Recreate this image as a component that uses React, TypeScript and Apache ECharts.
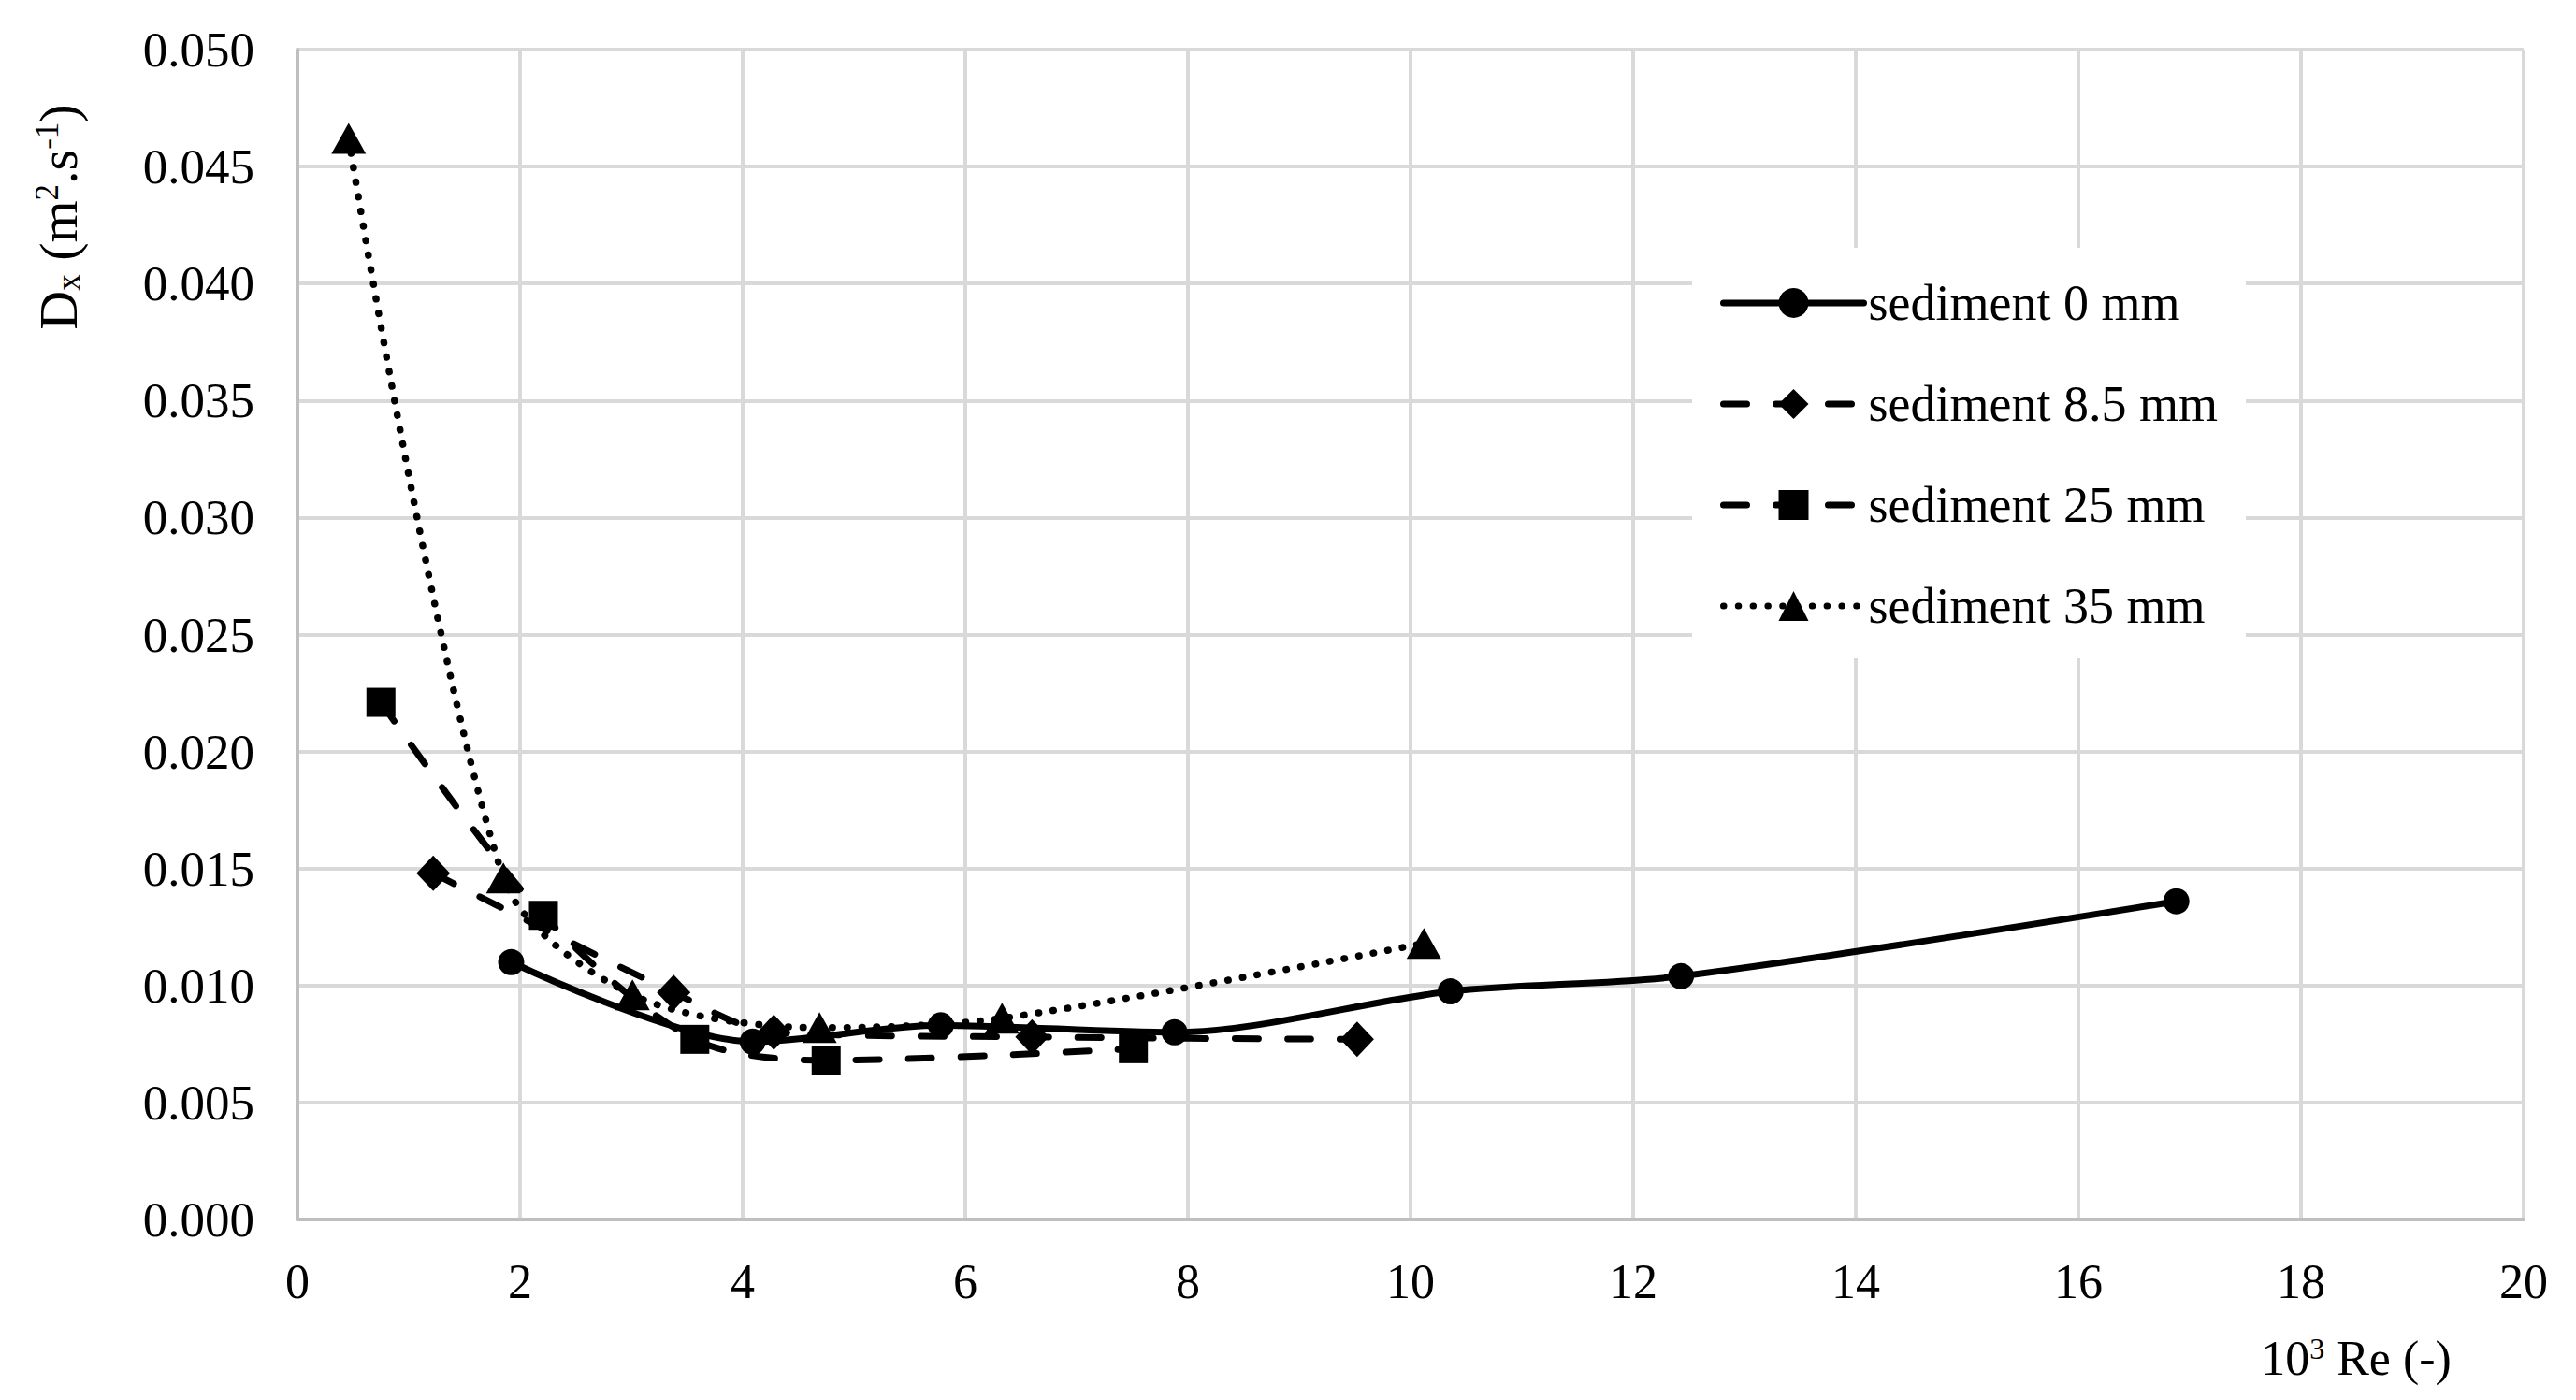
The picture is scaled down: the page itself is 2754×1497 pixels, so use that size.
import React, { useEffect, useRef } from "react";
import * as echarts from "echarts";

// ---- data (x = 10^3 Re, y = Dx in m2/s) ----
const seriesNames = ["sediment 0 mm", "sediment 8.5 mm", "sediment 25 mm", "sediment 35 mm"];

const sed0: number[][] = [
  [1.92, 0.0110], [4.09, 0.0076], [5.78, 0.0083], [7.88, 0.0080],
  [10.36, 0.00975], [12.43, 0.0104], [16.88, 0.0136],
];
const sed85: number[][] = [
  [1.22, 0.0148], [3.38, 0.0097], [4.28, 0.0080], [6.60, 0.0078], [9.52, 0.0077],
];
const sed25: number[][] = [
  [0.75, 0.0221], [2.21, 0.0130], [3.57, 0.0077], [4.75, 0.0068], [7.51, 0.0073],
];
const sed35: number[][] = [
  [0.46, 0.0462], [1.85, 0.0146], [3.01, 0.0096], [4.69, 0.0082], [6.33, 0.0086], [10.12, 0.0118],
];

const xMin = 0, xMax = 20, xStep = 2;
const yMin = 0, yMax = 0.05, yStep = 0.005;

const FONT = "Liberation Serif";

export default function App() {
  const ref = useRef<HTMLDivElement>(null);
  useEffect(() => {
    if (!ref.current) return;
    const chart = echarts.init(ref.current, null, { renderer: "svg" });
    const dash = [25, 31];
    const dots = [0.5, 15.3];
    const base = {
      type: "line" as const,
      smooth: 0.3,
      color: "#000",
      itemStyle: { color: "#000" },
    };
    chart.setOption({
      animation: false,
      backgroundColor: "#fff",
      grid: { left: 318, right: 56, top: 53, bottom: 193, containLabel: false },
      xAxis: {
        type: "value",
        min: xMin,
        max: xMax,
        interval: xStep,
        axisLine: { show: true, lineStyle: { color: "#bfbfbf", width: 4 } },
        axisTick: { show: false },
        axisLabel: { color: "#000", fontFamily: FONT, fontSize: 52, margin: 40 },
        splitLine: { show: true, lineStyle: { color: "#d9d9d9", width: 4 } },
      },
      yAxis: {
        type: "value",
        min: yMin,
        max: yMax,
        interval: yStep,
        axisLine: { show: true, lineStyle: { color: "#bfbfbf", width: 4 } },
        axisTick: { show: false },
        axisLabel: {
          color: "#000",
          fontFamily: FONT,
          fontSize: 53,
          margin: 46,
          formatter: (v: number) => v.toFixed(3),
        },
        splitLine: { show: true, lineStyle: { color: "#d9d9d9", width: 4 } },
      },
      legend: {
        orient: "vertical",
        left: 1809,
        top: 265,
        padding: [32, 30, 29, 30],
        backgroundColor: "#fff",
        itemWidth: 150,
        itemHeight: 40,
        itemGap: 54,
        lineStyle: { width: 7, cap: "round" },
        textStyle: { color: "#000", fontFamily: FONT, fontSize: 54, lineHeight: 52 },
        data: seriesNames,
      },
      graphic: [
        {
          type: "text",
          x: 62,
          y: 232,
          rotation: Math.PI / 2,
          style: {
            text: "D{sub|x} (m{sup|2}.s{sup|-1})",
            fill: "#000",
            fontFamily: FONT,
            fontSize: 58,
            align: "center",
            verticalAlign: "middle",
            rich: {
              sub: { fontFamily: FONT, fontSize: 35, verticalAlign: "bottom", fill: "#000" },
              sup: { fontFamily: FONT, fontSize: 35, verticalAlign: "top", fill: "#000" },
            },
          },
        },
        {
          type: "text",
          x: 2519,
          y: 1452,
          style: {
            text: "10{sup|3} Re (-)",
            fill: "#000",
            fontFamily: FONT,
            fontSize: 52,
            align: "center",
            verticalAlign: "middle",
            rich: {
              sup: { fontFamily: FONT, fontSize: 32, verticalAlign: "top", fill: "#000" },
            },
          },
        },
      ],
      series: [
        {
          ...base,
          name: seriesNames[0],
          data: sed0,
          symbol: "circle",
          symbolSize: 28,
          lineStyle: { color: "#000", width: 7, type: "solid", cap: "round" },
        },
        {
          ...base,
          name: seriesNames[1],
          data: sed85,
          symbol: "diamond",
          symbolSize: [36, 38],
          lineStyle: { color: "#000", width: 7, type: dash, cap: "round" },
        },
        {
          ...base,
          name: seriesNames[2],
          data: sed25,
          symbol: "rect",
          symbolSize: [31, 31],
          lineStyle: { color: "#000", width: 7, type: dash, cap: "round" },
        },
        {
          ...base,
          name: seriesNames[3],
          data: sed35,
          symbol: "triangle",
          symbolSize: [37, 33],
          lineStyle: { color: "#000", width: 7.5, type: dots, cap: "round" },
        },
      ],
    });
    return () => chart.dispose();
  }, []);
  return (
    <div
      ref={ref}
      style={{ position: "absolute", left: 0, top: 0, width: 2754, height: 1497, background: "#fff" }}
    />
  );
}
